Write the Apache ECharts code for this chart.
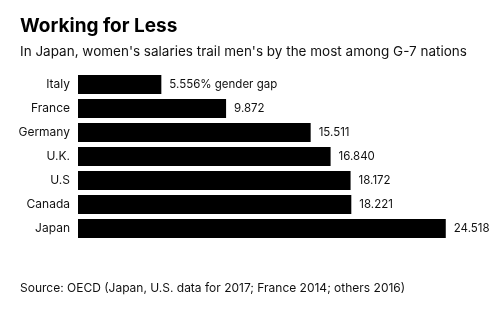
<!DOCTYPE html>
<html><head><meta charset="utf-8">
<script src="https://cdn.jsdelivr.net/npm/echarts@6/dist/echarts.min.js"></script>
<style>html,body{margin:0;padding:0;background:#fff;}#c{width:503px;height:322px;}</style>
</head><body><div id="c"></div>
<script>
const categories = ["Italy", "France", "Germany", "U.K.", "U.S", "Canada", "Japan"];
const values = [5.556, 9.872, 15.511, 16.840, 18.172, 18.221, 24.518];
const valueLabels = ["5.556% gender gap", "9.872", "15.511", "16.840", "18.172", "18.221", "24.518"];

const chart = echarts.init(document.getElementById('c'), null, {renderer: 'canvas'});
const FONT = 'Inter, "Liberation Sans", sans-serif';
chart.setOption({
  animation: false,
  backgroundColor: '#fff',
  title: [
    {text: 'Working for Less', left: 15, top: 12,
     textStyle: {fontFamily: FONT, fontSize: 19, fontWeight: 'bold', color: '#000'}},
    {text: "In Japan, women's salaries trail men's by the most among G-7 nations", left: 15, top: 40,
     textStyle: {fontFamily: FONT, fontSize: 13.5, fontWeight: 'normal', color: '#111'}},
    {text: 'Source: OECD (Japan, U.S. data for 2017; France 2014; others 2016)', left: 15, top: 277,
     textStyle: {fontFamily: FONT, fontSize: 12, fontWeight: 'normal', color: '#111'}}
  ],
  grid: {left: 78, right: 50, top: 72.5, height: 168, containLabel: false},
  xAxis: {type: 'value', min: 0, max: 25, show: false},
  yAxis: {
    type: 'category', data: categories, inverse: true,
    axisLine: {show: false}, axisTick: {show: false},
    axisLabel: {fontFamily: FONT, fontSize: 12, color: '#111', margin: 8}
  },
  series: [{
    type: 'bar', data: values, barCategoryGap: '20%',
    itemStyle: {color: '#000'},
    label: {show: true, position: 'right', distance: 8, fontFamily: FONT, fontSize: 11.5, color: '#111',
      formatter: p => valueLabels[p.dataIndex]}
  }]
});
</script></body></html>
